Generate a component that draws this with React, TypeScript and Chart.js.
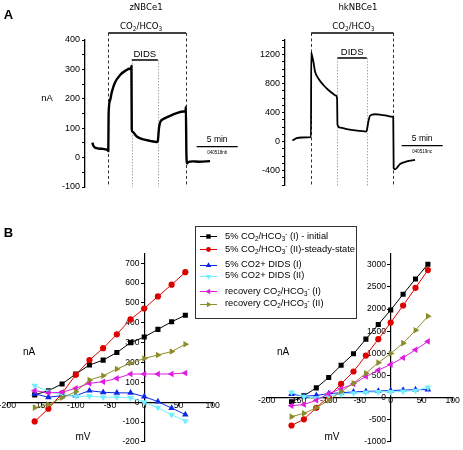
import React, { useEffect, useRef } from 'react';
import { Chart, registerables } from 'chart.js';

Chart.register(...registerables);

const SANS = "'Liberation Sans', Arial, Helvetica, sans-serif";
const NARROW = "'Liberation Sans Narrow', 'Arial Narrow', 'DejaVu Sans Condensed', 'Liberation Sans', Arial, sans-serif";

// ---------------- Panel A: current traces (time in min, current in nA) ----------------
const zTime = [0, 0.12, 0.33, 1.14, 1.9, 1.94, 1.98, 2.16, 2.36, 2.77, 3.38, 3.99, 4.6, 4.72, 4.76, 4.8, 4.88, 5.41, 6.22, 7.04, 7.85, 7.97, 8.12, 8.26, 8.66, 9.48, 10.29, 11.1, 11.36, 11.4, 11.46, 11.55, 11.7, 12.2, 13.0, 14.35];
const zCurrent = [51, 40, 34, 30, 25, 22, 150, 195, 222, 256, 281, 295, 303, 300, 312, 97, 88, 72, 62, 57, 53, 55, 100, 120, 131, 142, 151, 157, 158, 172, 20, -20, -15, -13, -14, -12];

const hkTime = [0, 0.53, 1.14, 2.27, 2.3, 2.36, 2.56, 2.77, 3.17, 3.78, 4.39, 5.0, 5.33, 5.45, 5.5, 5.82, 6.63, 7.44, 8.26, 8.99, 9.07, 9.27, 9.48, 10.09, 10.9, 11.51, 12.12, 12.3, 12.35, 12.52, 13.13, 13.95, 14.96];
const hkCurrent = [14, 46, 55, 60, 1230, 1200, 1100, 962, 870, 779, 710, 655, 632, 595, 229, 192, 170, 156, 147, 137, 150, 275, 357, 376, 366, 357, 343, 340, -366, -385, -311, -275, -252];

// event times: [CO2 on, DIDS on, DIDS off, CO2 off] (min)
const zEvents = [1.94, 4.8, 7.97, 11.42];
const hkEvents = [2.3, 5.5, 9.07, 12.33];
const scaleBarMinutes = 5;
const zScaleBarStart = 12.72;
const hkScaleBarStart = 13.33;

// ---------------- Panel B: I-V curves (mV, nA) ----------------
const voltages = [-160, -140, -120, -100, -80, -60, -40, -20, 0, 20, 40, 60];

const zCO2I = [37, 58, 92, 142, 187, 212, 250, 300, 328, 367, 405, 438];
const zCO2II = [-97, -33, 45, 138, 212, 272, 342, 417, 472, 533, 592, 655];
const zDIDSI = [42, 25, 33, 33, 58, 50, 47, 47, 28, 3, -30, -62];
const zDIDSII = [83, 55, 38, 30, 30, 25, 25, 22, 0, -28, -63, -95];
const zRecI = [58, 47, 50, 70, 95, 103, 120, 142, 142, 142, 142, 147];
const zRecII = [-28, -12, 22, 53, 112, 133, 167, 197, 220, 238, 255, 292];

const hkCO2I = [-95, 40, 220, 455, 730, 990, 1320, 1650, 1980, 2335, 2680, 3010];
const hkCO2II = [-630, -490, -230, 30, 310, 590, 950, 1320, 1695, 2080, 2480, 2880];
const hkDIDSI = [80, 30, 50, 90, 110, 130, 140, 150, 160, 170, 180, 180];
const hkDIDSII = [120, 20, -10, 40, 80, 100, 120, 130, 130, 140, 160, 230];
const hkRecI = [-185, -155, -60, 90, 200, 310, 475, 620, 750, 900, 1080, 1270];
const hkRecII = [-430, -355, -230, -60, 140, 325, 550, 790, 995, 1230, 1520, 1840];

// tick values
const ivVoltTicks = [-200, -150, -100, -50, 0, 50, 100];
const zIVCurrentTicks = [-200, -100, 0, 100, 200, 300, 400, 500, 600, 700];
const hkIVCurrentTicks = [-1000, -500, 0, 500, 1000, 1500, 2000, 2500, 3000];

const seriesNames = [
  '5% CO_2/HCO_3^- (I) - initial',
  '5% CO_2/HCO_3^- (II)-steady-state',
  '5% CO2+ DIDS (I)',
  '5% CO2+ DIDS (II)',
  'recovery CO_2/HCO_3^-  (I)',
  'recovery CO_2/HCO_3^-  (II)',
];

const seriesStyles = [
  { color: '#000000', point: 'rect', rot: 0, r: 3.6 },
  { color: '#dd0000', point: 'circle', rot: 0, r: 3.1 },
  { color: '#0a28e6', point: 'triangle', rot: 0, r: 3.8 },
  { color: '#6fefff', point: 'triangle', rot: 180, r: 3.8 },
  { color: '#e01be0', point: 'triangle', rot: 270, r: 3.8 },
  { color: '#8c8c2c', point: 'triangle', rot: 90, r: 3.8 },
];

const zSeries = [zCO2I, zCO2II, zDIDSI, zDIDSII, zRecI, zRecII];
const hkSeries = [hkCO2I, hkCO2II, hkDIDSI, hkDIDSII, hkRecI, hkRecII];

// ---------------- rich text helpers ----------------
type Seg = { t: string; k: number };
function parseRich(s: string): Seg[] {
  const out: Seg[] = [];
  let buf = '';
  for (let i = 0; i < s.length; i++) {
    const c = s[i];
    if ((c === '_' || c === '^') && i + 1 < s.length) {
      if (buf) { out.push({ t: buf, k: 0 }); buf = ''; }
      out.push({ t: s[i + 1], k: c === '_' ? -1 : 1 });
      i++;
    } else buf += c;
  }
  if (buf) out.push({ t: buf, k: 0 });
  return out;
}
const plain = (s: string) => s.replace(/[_^]/g, '');

function drawRich(ctx: CanvasRenderingContext2D, s: string, cx: number, cy: number, size: number, family: string) {
  const segs = parseRich(s);
  const fontFor = (k: number) => `${k ? size * 0.68 : size}px ${family}`;
  const widths = segs.map((sg) => { ctx.font = fontFor(sg.k); return ctx.measureText(sg.t).width; });
  const total = widths.reduce((a, b) => a + b, 0);
  let x = cx - total / 2;
  ctx.textAlign = 'left';
  ctx.textBaseline = 'middle';
  segs.forEach((sg, i) => {
    ctx.font = fontFor(sg.k);
    const dy = sg.k === -1 ? size * 0.32 : sg.k === 1 ? -size * 0.38 : 0;
    ctx.fillText(sg.t, x, cy + dy);
    x += widths[i];
  });
}

function RichText({ s }: { s: string }) {
  return (
    <>
      {parseRich(s).map((sg, i) =>
        sg.k === 0 ? (
          <span key={i}>{sg.t}</span>
        ) : (
          <span key={i} style={{ fontSize: '0.68em', position: 'relative', top: sg.k === -1 ? '0.32em' : '-0.5em' }}>{sg.t}</span>
        )
      )}
    </>
  );
}

// ---------------- panel A annotation plugin ----------------
type AnnotOpts = { events: number[]; co2Level: number; didsLevel: number; floor: number; barStart: number; barLevel: number; code: string; co2Dx: number };

function traceAnnotations(o: AnnotOpts) {
  return {
    id: 'traceAnnotations',
    beforeDatasetsDraw(chart: any) {
      const ctx: CanvasRenderingContext2D = chart.ctx;
      const xs = chart.scales.x;
      const ys = chart.scales.y;
      const [co2On, didsOn, didsOff, co2Off] = o.events;
      const vline = (t: number, from: number) => {
        const px = Math.round(xs.getPixelForValue(t)) + 0.5;
        ctx.beginPath();
        ctx.moveTo(px, ys.getPixelForValue(from));
        ctx.lineTo(px, ys.getPixelForValue(o.floor));
        ctx.stroke();
      };
      ctx.save();
      ctx.lineWidth = 1;
      ctx.strokeStyle = '#333';
      ctx.setLineDash([3, 2.5]);
      vline(co2On, o.co2Level);
      vline(co2Off, o.co2Level);
      ctx.strokeStyle = '#a8a8a8';
      ctx.setLineDash([1.5, 1.5]);
      vline(didsOn, o.didsLevel);
      vline(didsOff, o.didsLevel);
      ctx.restore();
    },
    afterDraw(chart: any) {
      const ctx: CanvasRenderingContext2D = chart.ctx;
      const xs = chart.scales.x;
      const ys = chart.scales.y;
      const X = (t: number) => xs.getPixelForValue(t);
      const Y = (v: number) => ys.getPixelForValue(v);
      const [co2On, didsOn, didsOff, co2Off] = o.events;
      const hline = (t0: number, t1: number, v: number, w: number) => {
        ctx.lineWidth = w;
        ctx.beginPath();
        ctx.moveTo(X(t0), Y(v));
        ctx.lineTo(X(t1), Y(v));
        ctx.stroke();
      };
      ctx.save();
      ctx.strokeStyle = '#000';
      ctx.fillStyle = '#000';
      ctx.setLineDash([]);
      hline(co2On, co2Off, o.co2Level, 1.5);
      hline(didsOn, didsOff, o.didsLevel, 1.5);
      const barEnd = o.barStart + scaleBarMinutes;
      hline(o.barStart, barEnd, o.barLevel, 1.3);
      drawRich(ctx, 'CO_2/HCO_3', (X(co2On) + X(co2Off)) / 2 + o.co2Dx, Y(o.co2Level) - 6.5, 9.5, NARROW);
      drawRich(ctx, 'DIDS', (X(didsOn) + X(didsOff)) / 2, Y(o.didsLevel) - 6, 9.5, SANS);
      drawRich(ctx, `${scaleBarMinutes} min`, (X(o.barStart) + X(barEnd)) / 2, Y(o.barLevel) - 7, 8.5, SANS);
      drawRich(ctx, o.code, (X(o.barStart) + X(barEnd)) / 2, Y(o.barLevel) + 6, 4.5, SANS);
      ctx.restore();
    },
  };
}

// ---------------- chart configs ----------------
const tickFont = (size: number) => ({ family: SANS, size });

function traceConfig(time: number[], current: number[], p: {
  padding: any; xMax: number; yMin: number; yMax: number; step: number; labelEvery: number; width: number; annot: AnnotOpts;
}) {
  return {
    type: 'line',
    data: {
      datasets: [{
        data: time.map((t, i) => ({ x: t, y: current[i] })),
        borderColor: '#000',
        borderWidth: p.width,
        pointRadius: 0,
        cubicInterpolationMode: 'monotone',
        borderJoinStyle: 'round',
      }],
    },
    options: {
      animation: false,
      responsive: false,
      devicePixelRatio: 1,
      events: [],
      layout: { padding: p.padding },
      plugins: { legend: { display: false }, tooltip: { enabled: false }, title: { display: false } },
      scales: {
        x: { type: 'linear', min: -0.9, max: p.xMax, display: false },
        y: {
          type: 'linear',
          position: 'left',
          min: p.yMin,
          max: p.yMax,
          afterFit: (s: any) => { s.width = 40; },
          ticks: {
            stepSize: p.step,
            autoSkip: false,
            callback: (v: number) => (v % p.labelEvery === 0 ? String(v) : ''),
            font: tickFont(9),
            color: '#000',
            padding: 2,
          },
          grid: { drawOnChartArea: false, drawTicks: true, tickLength: 3, tickColor: '#000', tickWidth: 1 },
          border: { display: true, color: '#000', width: 1.3 },
        },
      },
    },
    plugins: [traceAnnotations(p.annot)],
  };
}

function ivConfig(series: number[][], yTicks: number[], p: { padding: any; yMin: number; yMax: number }) {
  return {
    type: 'scatter',
    data: {
      datasets: series.map((vals, i) => ({
        label: plain(seriesNames[i]),
        data: voltages.map((v, j) => ({ x: v, y: vals[j] })),
        showLine: true,
        borderColor: seriesStyles[i].color,
        backgroundColor: seriesStyles[i].color,
        borderWidth: 1,
        pointStyle: seriesStyles[i].point,
        pointRotation: seriesStyles[i].rot,
        pointRadius: seriesStyles[i].r,
        pointBorderWidth: 0,
        order: series.length - i,
      })),
    },
    options: {
      animation: false,
      responsive: false,
      devicePixelRatio: 1,
      events: [],
      layout: { padding: p.padding },
      plugins: { legend: { display: false }, tooltip: { enabled: false } },
      scales: {
        x: {
          type: 'linear',
          min: ivVoltTicks[0],
          max: ivVoltTicks[ivVoltTicks.length - 1],
          position: { y: 0 },
          afterBuildTicks: (s: any) => { s.ticks = ivVoltTicks.map((v) => ({ value: v })); },
          ticks: { autoSkip: false, maxRotation: 0, callback: (v: number) => String(v), font: tickFont(8.7), color: '#000', padding: -5 },
          grid: { drawOnChartArea: false, drawTicks: true, tickLength: 3, tickColor: '#000' },
          border: { display: true, color: '#000', width: 1.2 },
        },
        y: {
          type: 'linear',
          min: p.yMin,
          max: p.yMax,
          position: { x: 0 },
          afterBuildTicks: (s: any) => { s.ticks = yTicks.map((v) => ({ value: v })); },
          ticks: { autoSkip: false, callback: (v: number) => String(v) + '\u00a0\u00a0', font: tickFont(8.5), color: '#000' },
          grid: { drawOnChartArea: false, drawTicks: true, tickLength: 3, tickColor: '#000' },
          border: { display: true, color: '#000', width: 1.2 },
        },
      },
    },
  };
}

function ChartLayer({ make }: { make: () => any }) {
  const ref = useRef<HTMLCanvasElement>(null);
  useEffect(() => {
    const chart = new Chart(ref.current as HTMLCanvasElement, make());
    return () => chart.destroy();
  }, []);
  return <canvas ref={ref} width={463} height={450} style={{ position: 'absolute', left: 0, top: 0, width: 463, height: 450 }} />;
}

function Txt({ x, y, size, bold = false, family = SANS, children }: any) {
  return (
    <div style={{ position: 'absolute', left: x, top: y, transform: 'translate(-50%, -50%)', font: `${bold ? 'bold ' : ''}${size}px ${family}`, lineHeight: 1, whiteSpace: 'nowrap', color: '#000' }}>
      {children}
    </div>
  );
}

function LegendMarker({ st }: { st: any }) {
  const cx = 8.5;
  const cy = 4.5;
  let shape: any;
  if (st.point === 'rect') shape = <rect x={cx - 2.2} y={cy - 2.2} width={4.4} height={4.4} fill={st.color} />;
  else if (st.point === 'circle') shape = <circle cx={cx} cy={cy} r={2.4} fill={st.color} />;
  else {
    const r = 3.2;
    const pts = [0, 120, 240].map((a) => {
      const rad = ((a + st.rot) * Math.PI) / 180;
      return `${cx + Math.sin(rad) * r},${cy - Math.cos(rad) * r}`;
    }).join(' ');
    shape = <polygon points={pts} fill={st.color} />;
  }
  return (
    <svg width={17} height={9} style={{ display: 'block' }}>
      <line x1={0} y1={cy} x2={17} y2={cy} stroke={st.color} strokeWidth={1} />
      {shape}
    </svg>
  );
}

function Legend() {
  const rowCenters = [236.7, 249.3, 265, 276, 291.7, 304];
  const top = 226;
  return (
    <div style={{ position: 'absolute', left: 195, top, width: 162, height: 93, border: '1px solid #333', background: '#fff', boxSizing: 'border-box' }}>
      {seriesNames.map((name, i) => (
        <div key={i} style={{ position: 'absolute', left: 4, top: rowCenters[i] - top - 1 - 6, height: 12, display: 'flex', alignItems: 'center', whiteSpace: 'nowrap' }}>
          <LegendMarker st={seriesStyles[i]} />
          <span style={{ marginLeft: 8, font: `9.3px ${SANS}`, color: '#000', lineHeight: 1 }}>
            <RichText s={name} />
          </span>
        </div>
      ))}
    </div>
  );
}

export default function App() {
  return (
    <div style={{ position: 'absolute', left: 0, top: 0, width: 463, height: 450, overflow: 'hidden', background: '#fff' }}>
      <ChartLayer make={() => traceConfig(zTime, zCurrent, {
        padding: { left: 45, right: 223, top: 40, bottom: 263 }, xMax: 18, yMin: -100, yMax: 400, step: 50, labelEvery: 100, width: 2.4,
        annot: { events: zEvents, co2Level: 424, didsLevel: 332, floor: -100, barStart: zScaleBarStart, barLevel: 37, code: '040518nb', co2Dx: -6 },
      })} />
      <ChartLayer make={() => traceConfig(hkTime, hkCurrent, {
        padding: { left: 245, right: 18.1, top: 40, bottom: 265 }, xMax: 18.6, yMin: -600, yMax: 1400, step: 100, labelEvery: 400, width: 1.8,
        annot: { events: hkEvents, co2Level: 1497, didsLevel: 1152, floor: -628, barStart: hkScaleBarStart, barLevel: -58, code: '040519nc', co2Dx: 1 },
      })} />
      <ChartLayer make={() => ivConfig(zSeries, zIVCurrentTicks, { padding: { left: 7.3, right: 250.3, top: 253.3, bottom: 5.8 }, yMin: -200, yMax: 750 })} />
      <ChartLayer make={() => ivConfig(hkSeries, hkIVCurrentTicks, { padding: { left: 266.7, right: 10.3, top: 253.7, bottom: 3.7 }, yMin: -1000, yMax: 3250 })} />

      <Txt x={8.5} y={13.5} size={13} bold>A</Txt>
      <Txt x={8.5} y={231.5} size={13} bold>B</Txt>
      <Txt x={146} y={7} size={9.5} family={NARROW}>zNBCe1</Txt>
      <Txt x={358} y={7} size={9.5} family={NARROW}>hkNBCe1</Txt>
      <Txt x={47} y={98} size={9.5}>nA</Txt>
      <Txt x={29} y={352} size={10}>nA</Txt>
      <Txt x={283} y={352} size={10}>nA</Txt>
      <Txt x={83} y={436.5} size={10}>mV</Txt>
      <Txt x={332} y={436.5} size={10}>mV</Txt>
      <Legend />
    </div>
  );
}
